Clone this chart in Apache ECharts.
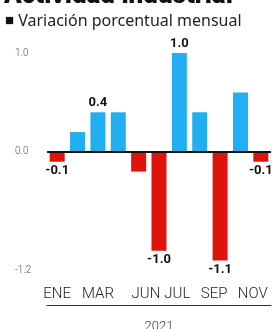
<!DOCTYPE html>
<html>
<head>
<meta charset="utf-8">
<script src="https://cdn.jsdelivr.net/npm/echarts@6/dist/echarts.min.js"></script>
<style>
  html, body { margin: 0; padding: 0; background: #fff; }
  #container { width: 278px; height: 329px; }
</style>
</head>
<body>
<div id="container"></div>
<script>
  var meses = ['ENE', 'FEB', 'MAR', 'ABR', 'MAY', 'JUN', 'JUL', 'AGO', 'SEP', 'OCT', 'NOV'];
  var variacion = [-0.1, 0.2, 0.4, 0.4, -0.2, -1.0, 1.0, 0.4, -1.1, 0.6, -0.1];
  // meses que llevan etiqueta de valor
  var conEtiqueta = ['ENE', 'MAR', 'JUN', 'JUL', 'SEP', 'NOV'];
  var mesesVisibles = ['ENE', 'MAR', 'JUN', 'JUL', 'SEP', 'NOV'];
  var ticksY = [-1.2, 0, 1.0];

  var dom = document.getElementById("container");
  var myChart = echarts.init(dom);
  var option = null;

  var azul = '#22aef0';
  var rojo = '#e0120c';
  // corrimiento (px a la izquierda) de algunas etiquetas del eje x
  var corrimiento = { JUN: 13, JUL: 2, SEP: 6, NOV: 8 };

  var datos = variacion.map(function (v, i) {
    var etiqueta = conEtiqueta.indexOf(meses[i]) >= 0;
    return {
      value: v,
      itemStyle: { color: v >= 0 ? azul : rojo },
      label: {
        show: etiqueta,
        position: v >= 0 ? 'top' : 'bottom'
      }
    };
  });

  var categorias = meses.map(function (m) {
    var c = corrimiento[m] || 0;
    return { value: m, textStyle: { padding: [0, 2 * c, 0, 0] } };
  });

  option = {
    animation: false,
    //titulos
    title: [{
      text: 'Actividad industrial',
      left: -1,
      top: -22,
      textStyle: { fontFamily: 'Roboto', fontSize: 26, fontWeight: 900, color: '#111' }
    }, {
      text: '{b|■} Variación porcentual mensual',
      left: 0,
      top: 8,
      textStyle: {
        fontFamily: 'Noto Sans', fontSize: 16, fontWeight: 'normal', color: '#222',
        rich: { b: { fontSize: 15, color: '#111' } }
      }
    }],
    grid: { left: 47, right: 7, top: 53, bottom: 24, outerBoundsMode: 'none', containLabel: false },
    xAxis: {
      type: 'category',
      data: categorias,
      name: '2021',
      nameLocation: 'middle',
      nameGap: 15,
      nameTextStyle: { fontFamily: 'Roboto', fontSize: 13, fontWeight: 300, color: '#333' },
      axisLine: { onZero: false, lineStyle: { color: '#333', width: 1 } },
      axisTick: { show: false },
      axisLabel: {
        inside: true,
        margin: 3,
        fontFamily: 'Roboto',
        fontWeight: 300,
        fontSize: 15,
        color: '#222',
        interval: function (i, v) { return mesesVisibles.indexOf(v) >= 0; }
      }
    },
    yAxis: {
      type: 'value',
      min: -1.55,
      max: 1.0,
      axisLine: { show: false },
      axisTick: { show: false },
      splitLine: { show: false },
      axisLabel: {
        customValues: ticksY,
        align: 'left',
        margin: 32,
        fontFamily: 'Roboto',
        fontWeight: 300,
        fontSize: 10,
        color: '#555',
        formatter: function (v) { return v.toFixed(1); }
      }
    },
    series: [{
      type: 'bar',
      data: datos,
      barWidth: 15,
      label: {
        fontFamily: 'Roboto',
        fontWeight: 'bold',
        fontSize: 13,
        color: '#111',
        distance: 3,
        formatter: function (p) { return p.value.toFixed(1); }
      },
      markLine: {
        silent: true,
        symbol: 'none',
        label: { show: false },
        lineStyle: { color: '#111', width: 2, type: 'solid' },
        data: [{ yAxis: 0 }]
      }
    }]
  };
  if (option && typeof option === "object") {
      myChart.setOption(option, true);
  }
</script>
</body>
</html>
